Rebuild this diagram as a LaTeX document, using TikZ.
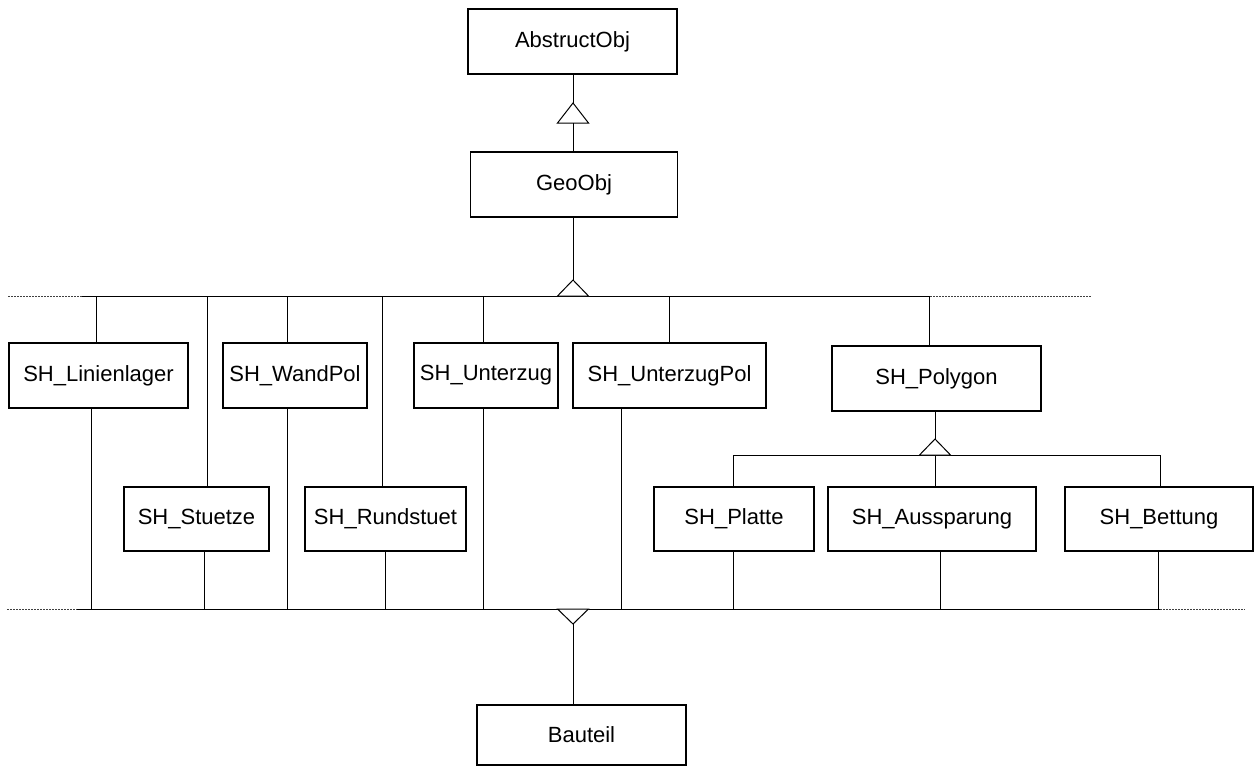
\documentclass[tikz,border=0pt]{standalone}
\usepackage{fontspec}
\setmainfont{Liberation Sans}
\usetikzlibrary{calc}
\tikzset{
  cls/.style={draw, line width=1.3pt, inner sep=0pt, minimum height=48.75pt,
    minimum width=#1*0.75pt, font=\fontsize{16.5}{19}\selectfont},
  link/.style={line width=0.75pt},
  stub/.style={line width=0.75pt, black!75, dash pattern=on 1.5pt off 0.75pt},
  gen/.style={line width=0.75pt, fill=white, line join=miter},
}
\newcommand{\genmark}[4]{% name, x, apex y, base y
  \coordinate (#1) at (#2,#3); \coordinate (#1b) at (#2,#4);
  \draw[gen] (#1) -- (#2-15.5,#4) -- (#2+15.5,#4) -- cycle;}

\begin{document}
\begin{tikzpicture}[x=0.75pt, y=-0.75pt]
  \useasboundingbox (0,0) rectangle (1255,767);
  \node[cls=209] (abs) at (572.5,41.5) {AbstructObj};
  \node[cls=207] (geo) at (574,184.5) {GeoObj};
  \node[cls=179] (lin) at (98.5,375.5) {SH\_Linienlager};
  \node[cls=145, minimum height=48pt] (stu) at (196.5,519) {SH\_Stuetze};
  \node[cls=144] (wand) at (295,375.5) {SH\_WandPol};
  \node[cls=161, minimum height=48pt] (rund) at (385.5,519) {SH\_Rundstuet};
  \node[cls=144] (unt) at (486,375.5) {SH\_Unterzug};
  \node[cls=193] (upol) at (669.5,375.5) {SH\_UnterzugPol};
  \node[cls=209] (poly) at (936.5,378.5) {SH\_Polygon};
  \node[cls=160, minimum height=48pt] (platte) at (734,519) {SH\_Platte};
  \node[cls=208, minimum height=48pt] (aus) at (932,519) {SH\_Aussparung};
  \node[cls=188, minimum height=48pt] (bet) at (1159,519) {SH\_Bettung};
  \node[cls=209, minimum height=45pt] (bau) at (581.5,735) {Bauteil};

  % bars
  \coordinate (tl0) at (8,296);  \coordinate (tl) at (82,296);
  \coordinate (tr) at (930,296); \coordinate (tr0) at (1091,296);
  \coordinate (bl0) at (7,609);  \coordinate (bl) at (77,609);
  \coordinate (br) at (1160,609); \coordinate (br0) at (1245,609);
  \coordinate (sl) at (733,455); \coordinate (sr) at (1160,455);
  \draw[link] (tl) -- (tr);
  \draw[link] (bl) -- (br);
  \draw[link] (sl) -- (sr);
  \draw[stub] (tl0) -- (tl);
  \draw[stub] (tr) -- (tr0);
  \draw[stub] (bl0) -- (bl);
  \draw[stub] (br) -- (br0);

  \foreach \x/\n in {96/lin,207/stu,287/wand,382/rund,483/unt,669/upol,929/poly}{
    \coordinate (up\n) at (\x,296);
    \draw[link] (up\n) -- (up\n |- \n.north);}
  \foreach \x/\n in {91/lin,204/stu,287/wand,385/rund,483/unt,621/upol,733/platte,940/aus,1158/bet}{
    \coordinate (dn\n) at (\x,609);
    \draw[link] (dn\n |- \n.south) -- (dn\n);}
  \foreach \x/\n in {733/platte,935/aus,1160/bet}{
    \coordinate (sb\n) at (\x,455);
    \draw[link] (sb\n) -- (sb\n |- \n.north);}

  \genmark{t1}{573}{103}{123}
  \genmark{t2}{573}{280}{296}
  \genmark{t3}{935}{439}{455}
  \genmark{t4}{573}{624}{609}
  \draw[link] (t1) -- (t1 |- abs.south);
  \draw[link] (t1b) -- (t1b |- geo.north);
  \draw[link] (t2 |- geo.south) -- (t2);
  \draw[link] (t3 |- poly.south) -- (t3);
  \draw[link] (t4) -- (t4 |- bau.north);
\end{tikzpicture}
\end{document}
